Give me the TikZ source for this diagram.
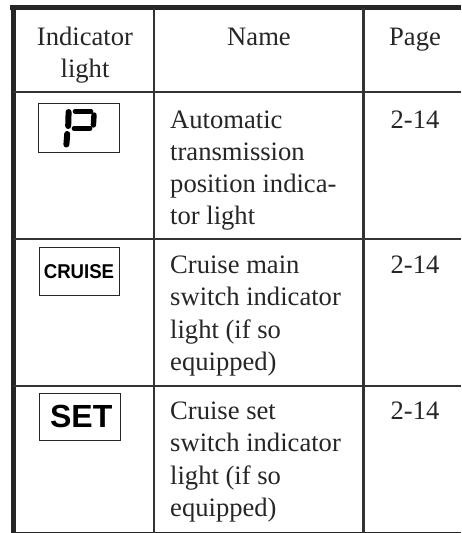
\documentclass[tikz,border=0pt]{standalone}
\usepackage{fontspec}
\setmainfont{Liberation Serif}
\newfontfamily\iconfont{Liberation Sans}
\tikzset{
  x=1pt,y=-1pt,
  thickrule/.style={line width=5pt,color=black!85},
  midrule/.style={line width=2.6pt,color=black!80},
  thinrule/.style={line width=1.1pt,color=black!85},
  lampbox/.style={draw=black!85,line width=1pt,fill=white},
  body/.style={anchor=base west,inner sep=0pt,text=black!85,font=\fontsize{26.6}{26.6}\selectfont},
  cbody/.style={anchor=base,inner sep=0pt,text=black!85,font=\fontsize{26.6}{26.6}\selectfont},
  barseg/.style={line width=4.6pt,line cap=round,color=black},
  postseg/.style={line width=6pt,line cap=round,color=black},
}
\begin{document}
\begin{tikzpicture}
\useasboundingbox (0,0) rectangle (461,533);
\fill[white] (0,0) rectangle (461,533);
% rules
\coordinate (tl) at (10,7.5); \coordinate (tr) at (461,7.5);
\coordinate (bl) at (13,533); \coordinate (lt) at (13,5);
\draw[thickrule] (tl) -- (tr);
\draw[thickrule] (lt) -- (bl);
\draw[midrule] (13,92) -- (461,92);
\draw[midrule] (13,239) -- (461,239);
\draw[midrule] (13,386) -- (461,386);
\draw[thinrule] (13,532.5) -- (461,532.5);
\draw[midrule,line width=2.2pt] (154,8) -- (154,533);
\draw[midrule,line width=2.2pt] (363.5,8) -- (363.5,533);
% header
\node[cbody] (h1) at (85,45) {Indicator};
\node[cbody] (h2) at (85,77) {light};
\node[cbody] (h3) at (259,45) {Name};
\node[cbody] (h4) at (415,45) {Page};
% lamp boxes
\node[lampbox,minimum width=81pt,minimum height=48.5pt,inner sep=0pt] (b1) at (79,127.8) {};
\node[lampbox,minimum width=80pt,minimum height=48pt,inner sep=0pt] (b2) at (79.5,271) {};
\node[lampbox,minimum width=81pt,minimum height=47.5pt,inner sep=0pt] (b3) at (80.2,417.2) {};
% P
\draw[barseg] (75,111.3) -- (91,111.3);
\draw[postseg] (68.6,112) -- (68.2,126);
\draw[postseg,line width=5.4pt] (94,115) -- (93.4,125);
\draw[barseg] (74,128.5) -- (90,128.5);
\draw[postseg] (67.2,134) -- (66.4,144.5);
% labels in lamps
\node[inner sep=0pt,font=\iconfont\bfseries\fontsize{20}{20}\selectfont] (c) at (79,272) {\scalebox{0.93}[1]{CRUISE}};
\node[inner sep=0pt,font=\iconfont\bfseries\fontsize{32}{32}\selectfont] (s) at (81.2,416.5) {SET};
% row 1
\node[body] (a1) at (170,128) {Automatic};
\node[body] (a2) at (170,160) {transmission};
\node[body] (a3) at (170,192) {position indica-};
\node[body] (a4) at (170,224) {tor light};
\node[cbody] (p1) at (415,128) {2-14};
% row 2
\node[body] (m1) at (170,273.5) {Cruise main};
\node[body] (m2) at (170,305.5) {switch indicator};
\node[body] (m3) at (170,338) {light (if so};
\node[body] (m4) at (170,370) {equipped)};
\node[cbody] (p2) at (415,273.5) {2-14};
% row 3
\node[body] (n1) at (170,419) {Cruise set};
\node[body] (n2) at (170,451.5) {switch indicator};
\node[body] (n3) at (170,484) {light (if so};
\node[body] (n4) at (170,516.5) {equipped)};
\node[cbody] (p3) at (415,419) {2-14};
\end{tikzpicture}
\end{document}
